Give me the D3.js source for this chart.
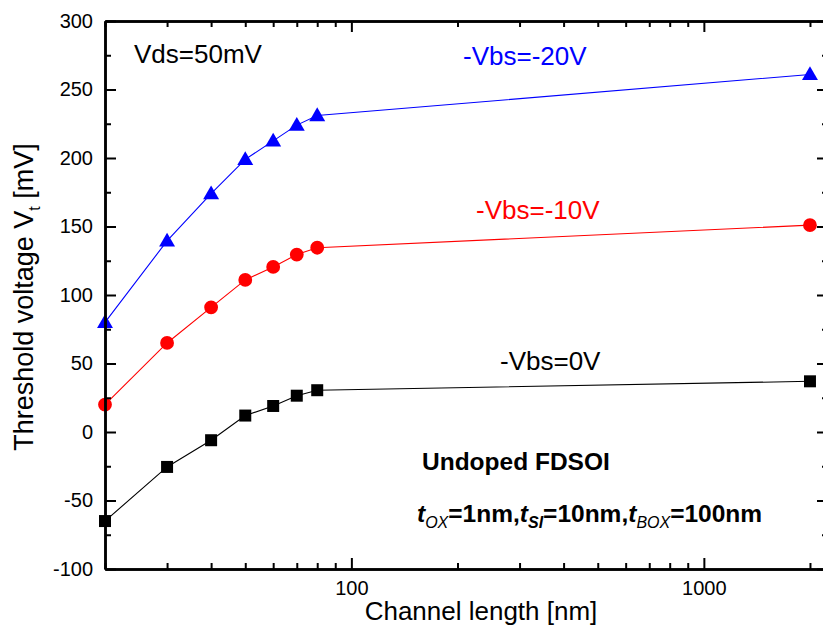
<!DOCTYPE html>
<html>
<head>
<meta charset="utf-8">
<script src="https://cdn.jsdelivr.net/npm/d3@7/dist/d3.min.js"></script>
<style>
  html, body { margin: 0; padding: 0; background: #fff; }
  svg { display: block; font-family: "Liberation Sans", Arial, sans-serif; }
</style>
</head>
<body>
<svg id="chart" width="823" height="633"></svg>
<script>
// Channel lengths [nm]
const lengths = [20, 30, 40, 50, 60, 70, 80, 2000];
// Threshold voltage [mV] per back-gate bias
const vt0   = [-65, -25.5, -6, 12, 19, 26.5, 30.5, 37];
const vt10  = [20, 65, 91, 111, 120.5, 129.5, 134.5, 151];
const vt20  = [80, 139.5, 174, 199, 212.5, 224, 231, 261];

const seriesNames  = ["-Vbs=0V", "-Vbs=-10V", "-Vbs=-20V"];
const seriesColors = ["#000000", "#ff0000", "#0000ff"];
const seriesShapes = ["square", "circle", "triangle"];

const yMajor = [-100, -50, 0, 50, 100, 150, 200, 250, 300];
const yMinor = [-75, -25, 25, 75, 125, 175, 225, 275];
const xMajor = [100, 1000];
const xMinor = [20, 30, 40, 50, 60, 70, 80, 90, 200, 300, 400, 500, 600, 700, 800, 900, 2000];

const svg = d3.select("#chart");
const L = 105, R = 828, T = 21, B = 569;

const x = d3.scaleLog().domain([20, 2250]).range([L, R]);
const y = d3.scaleLinear().domain([-100, 300]).range([B, T]);

svg.append("defs").append("clipPath").attr("id", "plotclip")
  .append("rect").attr("x", L - 12).attr("y", T - 12).attr("width", R - L + 24).attr("height", B - T + 24);

// series
const data = [vt0, vt10, vt20].map((vals, i) => ({
  name: seriesNames[i], color: seriesColors[i], shape: seriesShapes[i],
  pts: lengths.map((l, j) => ({ l, v: vals[j] }))
}));

const line = d3.line().x(d => x(d.l)).y(d => y(d.v));
const g = svg.append("g").attr("clip-path", "url(#plotclip)");

data.forEach(s => {
  g.append("path").datum(s.pts).attr("d", line)
    .attr("fill", "none").attr("stroke", s.color).attr("stroke-width", 1.1);
  const sym = s.shape === "square" ? d3.symbolSquare : s.shape === "circle" ? d3.symbolCircle : d3.symbolTriangle;
  const size = s.shape === "square" ? 144 : s.shape === "circle" ? 150 : 110;
  g.selectAll(null).data(s.pts).enter().append("path")
    .attr("transform", d => `translate(${x(d.l)},${y(d.v) + (s.shape === "triangle" ? 1 : 0)})`)
    .attr("d", d3.symbol().type(sym).size(size))
    .attr("fill", s.color);
});

// axes
function styleAxis(sel) {
  sel.selectAll(".domain").attr("stroke", "#000").attr("stroke-width", 2.5);
  sel.selectAll(".tick line").attr("stroke", "#000").attr("stroke-width", 2);
  sel.selectAll(".tick text").attr("fill", "#000").style("font-size", "20px")
    .style("font-family", "'Liberation Sans', Arial, sans-serif");
}

const fmt = d => String(d);

svg.append("g").attr("transform", `translate(0,${B})`)
  .call(d3.axisBottom(x).tickValues(xMinor).tickSizeInner(-6).tickSizeOuter(0).tickFormat(""))
  .call(styleAxis);
svg.append("g").attr("transform", `translate(0,${B})`)
  .call(d3.axisBottom(x).tickValues(xMajor).tickSizeInner(-11).tickSizeOuter(0).tickPadding(12).tickFormat(fmt))
  .call(styleAxis);
svg.append("g").attr("transform", `translate(0,${T})`)
  .call(d3.axisTop(x).tickValues(xMinor).tickSizeInner(-6).tickSizeOuter(0).tickFormat(""))
  .call(styleAxis);
svg.append("g").attr("transform", `translate(0,${T})`)
  .call(d3.axisTop(x).tickValues(xMajor).tickSizeInner(-11).tickSizeOuter(0).tickFormat(""))
  .call(styleAxis);

svg.append("g").attr("transform", `translate(${L},0)`)
  .call(d3.axisLeft(y).tickValues(yMinor).tickSizeInner(-6).tickSizeOuter(0).tickFormat(""))
  .call(styleAxis);
svg.append("g").attr("transform", `translate(${L},0)`)
  .call(d3.axisLeft(y).tickValues(yMajor).tickSizeInner(-11).tickSizeOuter(0).tickPadding(12).tickFormat(fmt))
  .call(styleAxis);
svg.append("g").attr("transform", `translate(${R},0)`)
  .call(d3.axisRight(y).tickValues(yMinor).tickSizeInner(-6).tickSizeOuter(0).tickFormat(""))
  .call(styleAxis);
svg.append("g").attr("transform", `translate(${R},0)`)
  .call(d3.axisRight(y).tickValues(yMajor).tickSizeInner(-11).tickSizeOuter(0).tickFormat(""))
  .call(styleAxis);

// axis titles
svg.append("text").attr("x", 481).attr("y", 620).attr("text-anchor", "middle")
  .style("font-size", "26px").text("Channel length [nm]");

const yt = svg.append("text").attr("transform", "translate(33,297) rotate(-90)")
  .attr("text-anchor", "middle").style("font-size", "27px");
yt.append("tspan").text("Threshold voltage V");
yt.append("tspan").attr("dy", 7).style("font-size", "16px").text("t");
yt.append("tspan").attr("dy", -7).text(" [mV]");

// annotations
svg.append("text").attr("x", 134).attr("y", 63).style("font-size", "26px").text("Vds=50mV");
svg.append("text").attr("x", 463).attr("y", 65).style("font-size", "26px").attr("fill", "#0000ff").text(seriesNames[2]);
svg.append("text").attr("x", 476).attr("y", 219).style("font-size", "26px").attr("fill", "#ff0000").text(seriesNames[1]);
svg.append("text").attr("x", 500).attr("y", 370).style("font-size", "26px").attr("fill", "#000").text(seriesNames[0]);

svg.append("text").attr("x", 422).attr("y", 470).style("font-size", "24.5px").style("font-weight", "bold")
  .text("Undoped FDSOI");

const tp = svg.append("text").attr("x", 417).attr("y", 522).style("font-size", "24.5px").style("font-weight", "bold");
const parts = [["OX", "=1nm,"], ["SI", "=10nm,"], ["BOX", "=100nm"]];
parts.forEach(([sub, rest]) => {
  tp.append("tspan").style("font-style", "italic").text("t");
  tp.append("tspan").attr("dy", 6).style("font-size", "16px").style("font-style", "italic")
    .style("font-weight", sub === "SI" ? "bold" : "normal").text(sub);
  tp.append("tspan").attr("dy", -6).text(rest);
});
</script>
</body>
</html>
